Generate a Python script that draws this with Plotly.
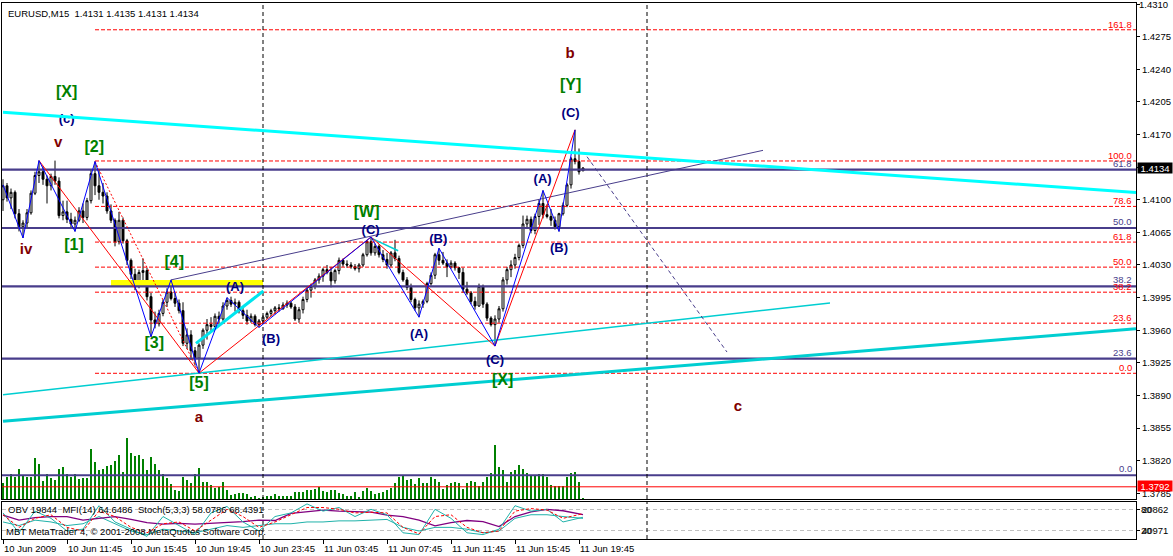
import plotly.graph_objects as go

# ---------------- data ----------------
bars = list(range(146))
opens = [1.4100,1.4115,1.4102,1.4108,1.4085,1.4071,1.4075,1.4086,1.4107,1.4126,
         1.4130,1.4122,1.4115,1.4125,1.4120,1.4083,1.4087,1.4079,1.4074,1.4078,
         1.4088,1.4081,1.4099,1.4128,1.4115,1.4108,1.4104,1.4088,1.4078,1.4055,
         1.4078,1.4056,1.4035,1.4020,1.4008,1.4022,1.4024,1.3996,1.3971,1.3967,
         1.3978,1.3990,1.4001,1.3994,1.3989,1.3981,1.3946,1.3955,1.3938,1.3930,
         1.3944,1.3960,1.3966,1.3964,1.3975,1.3972,1.3986,1.3992,1.3988,1.3990,
         1.3981,1.3976,1.3970,1.3975,1.3966,1.3970,1.3974,1.3978,1.3981,1.3984,
         1.3983,1.3987,1.3989,1.3985,1.3972,1.3982,1.3993,1.4003,1.4007,1.4014,
         1.4018,1.4025,1.4022,1.4013,1.4024,1.4035,1.4031,1.4030,1.4028,1.4026,
         1.4030,1.4041,1.4055,1.4043,1.4050,1.4041,1.4036,1.4030,1.4043,1.4037,
         1.4022,1.4014,1.4006,1.3993,1.3984,1.3988,1.3991,1.4010,1.4019,1.4041,
         1.4035,1.4032,1.4028,1.4032,1.4027,1.4022,1.4004,1.4000,1.3991,1.3986,
         1.4007,1.3988,1.3973,1.3966,1.3972,1.3983,1.4014,1.4025,1.4030,1.4038,
         1.4051,1.4074,1.4079,1.4067,1.4082,1.4096,1.4084,1.4082,1.4078,1.4071,
         1.4085,1.4094,1.4116,1.4144,1.4141,1.4131]
highs = [1.4122,1.4118,1.4112,1.4110,1.4090,1.4078,1.4090,1.4110,1.4130,1.4142,
         1.4136,1.4126,1.4128,1.4142,1.4124,1.4099,1.4099,1.4086,1.4082,1.4092,
         1.4096,1.4102,1.4133,1.4141,1.4132,1.4118,1.4108,1.4095,1.4080,1.4087,
         1.4081,1.4058,1.4037,1.4026,1.4025,1.4037,1.4027,1.4000,1.3980,1.3982,
         1.3993,1.4005,1.4014,1.4000,1.3993,1.3990,1.3962,1.3960,1.3942,1.3946,
         1.3962,1.3972,1.3974,1.3978,1.3980,1.3990,1.3995,1.3996,1.3994,1.3992,
         1.3986,1.3982,1.3978,1.3977,1.3972,1.3976,1.3980,1.3983,1.3986,1.3988,
         1.3990,1.3992,1.3991,1.3988,1.3985,1.3996,1.4006,1.4010,1.4016,1.4021,
         1.4027,1.4030,1.4028,1.4026,1.4038,1.4037,1.4035,1.4033,1.4031,1.4032,
         1.4043,1.4057,1.4060,1.4053,1.4052,1.4046,1.4043,1.4045,1.4057,1.4040,
         1.4025,1.4017,1.4010,1.3995,1.3992,1.3993,1.4012,1.4022,1.4043,1.4048,
         1.4044,1.4036,1.4035,1.4034,1.4028,1.4027,1.4012,1.4002,1.3996,1.4010,
         1.4009,1.3990,1.3975,1.3976,1.3986,1.4017,1.4028,1.4035,1.4042,1.4053,
         1.4083,1.4083,1.4082,1.4085,1.4100,1.4110,1.4095,1.4090,1.4082,1.4086,
         1.4097,1.4118,1.4146,1.4175,1.4155,1.4135]
lows = [1.4088,1.4098,1.4090,1.4080,1.4066,1.4059,1.4070,1.4084,1.4105,1.4118,
        1.4116,1.4096,1.4110,1.4116,1.4080,1.4078,1.4075,1.4070,1.4066,1.4076,
        1.4075,1.4078,1.4096,1.4105,1.4100,1.4096,1.4085,1.4075,1.4050,1.4052,
        1.4053,1.4030,1.4015,1.4003,1.4005,1.4012,1.3992,1.3953,1.3962,1.3964,
        1.3975,1.3985,1.3992,1.3985,1.3978,1.3943,1.3940,1.3928,1.3922,1.3914,
        1.3940,1.3950,1.3958,1.3962,1.3966,1.3970,1.3982,1.3985,1.3980,1.3978,
        1.3972,1.3966,1.3968,1.3964,1.3963,1.3967,1.3972,1.3975,1.3977,1.3980,
        1.3982,1.3984,1.3983,1.3970,1.3968,1.3978,1.3990,1.3995,1.4004,1.4010,
        1.4012,1.4020,1.4006,1.4010,1.4020,1.4028,1.4027,1.4026,1.4024,1.4022,
        1.4028,1.4039,1.4040,1.4040,1.4038,1.4033,1.4026,1.4028,1.4034,1.4020,
        1.4012,1.4003,1.3990,1.3981,1.3974,1.3984,1.3989,1.4008,1.4015,1.4030,
        1.4030,1.4017,1.4026,1.4024,1.4015,1.4000,1.3998,1.3988,1.3982,1.3985,
        1.3984,1.3970,1.3964,1.3943,1.3968,1.3980,1.4009,1.4017,1.4026,1.4035,
        1.4048,1.4070,1.4064,1.4063,1.4073,1.4080,1.4080,1.4072,1.4068,1.4066,
        1.4083,1.4092,1.4112,1.4138,1.4127,1.4131]
closes = [1.4115,1.4102,1.4108,1.4085,1.4071,1.4075,1.4086,1.4107,1.4126,1.4130,
          1.4122,1.4115,1.4125,1.4120,1.4083,1.4087,1.4079,1.4074,1.4078,1.4088,
          1.4081,1.4099,1.4128,1.4115,1.4108,1.4104,1.4088,1.4078,1.4055,1.4078,
          1.4056,1.4035,1.4020,1.4008,1.4022,1.4024,1.3996,1.3971,1.3967,1.3978,
          1.3990,1.4001,1.3994,1.3989,1.3981,1.3946,1.3955,1.3938,1.3930,1.3944,
          1.3960,1.3966,1.3964,1.3975,1.3972,1.3986,1.3992,1.3988,1.3990,1.3981,
          1.3976,1.3970,1.3975,1.3966,1.3970,1.3974,1.3978,1.3981,1.3984,1.3983,
          1.3987,1.3989,1.3985,1.3972,1.3982,1.3993,1.4003,1.4007,1.4014,1.4018,
          1.4025,1.4022,1.4013,1.4024,1.4035,1.4031,1.4030,1.4028,1.4026,1.4030,
          1.4041,1.4055,1.4043,1.4050,1.4041,1.4036,1.4030,1.4043,1.4037,1.4022,
          1.4014,1.4006,1.3993,1.3984,1.3988,1.3991,1.4010,1.4019,1.4041,1.4035,
          1.4032,1.4028,1.4032,1.4027,1.4022,1.4004,1.4000,1.3991,1.3986,1.4007,
          1.3988,1.3973,1.3966,1.3972,1.3983,1.4014,1.4025,1.4030,1.4038,1.4051,
          1.4074,1.4079,1.4067,1.4082,1.4096,1.4084,1.4082,1.4078,1.4071,1.4085,
          1.4094,1.4116,1.4144,1.4141,1.4130,1.4134]
volumes = [49,67,75,67,90,70,67,67,123,105,54,75,63,57,90,96,75,67,75,60,
           63,63,150,111,87,90,99,102,114,132,81,183,138,129,132,120,87,126,105,87,
           75,63,45,27,24,67,57,48,75,93,51,51,42,34,35,51,27,12,15,18,
           18,15,6,9,3,7,9,9,15,9,9,9,9,21,21,21,27,27,30,35,
           24,21,27,27,18,15,9,9,21,6,24,33,24,15,18,21,27,33,48,66,
           69,57,60,45,63,48,48,66,60,51,30,42,48,51,48,30,48,54,51,39,
           51,66,78,162,96,87,51,81,87,102,90,78,69,69,75,75,66,42,39,39,
           39,66,78,81,51,3]

time_tick_bars = [0, 16, 32, 48, 64, 80, 96, 112, 128, 144]
time_tick_labels = ["10 Jun 2009", "10 Jun 11:45", "10 Jun 15:45", "10 Jun 19:45",
                    "10 Jun 23:45", "11 Jun 03:45", "11 Jun 07:45", "11 Jun 11:45",
                    "11 Jun 15:45", "11 Jun 19:45"]
day_separator_bars = [65, 161]

top_price_tick = 1.4310
price_ticks = [1.4310, 1.4275, 1.4240, 1.4205, 1.4170, 1.4135, 1.4100, 1.4065, 1.4030,
               1.3995, 1.3960, 1.3925, 1.3890, 1.3855, 1.3820, 1.3785]
price_tick_labels = ["" if p == top_price_tick else "%.4f" % p for p in price_ticks]

bid_price = 1.4134
stop_price = 1.3792

red_fib_levels = [161.8, 100.0, 78.6, 61.8, 50.0, 38.2, 23.6, 0.0]
red_fib_zero = 1.39138
red_fib_hundred = 1.41416
red_fib_start_bar = 23

blue_fib_levels = [61.8, 50.0, 38.2, 23.6, 0.0]
blue_fib_zero = 1.38044
blue_fib_hundred = 1.43350

yellow_zone_bars = [27, 65]
yellow_zone_prices = [1.40067, 1.40140]

resistance_bars = [0, 283.25]
resistance_prices = [1.41938, 1.41077]
support_bars = [0, 283.25]
support_prices = [1.38624, 1.39616]
channel_bars = [0, 206.75]
channel_prices = [1.38908, 1.39892]
rise_bars = [48.25, 65.1]
rise_prices = [1.39459, 1.40021]
small_bars = [92.2, 98.8]
small_prices = [1.40586, 1.40453]
slate_bars = [42, 190]
slate_prices = [1.4014, 1.4153]
projection_bars = [146, 181]
projection_prices = [1.41462, 1.39366]

zigzag_bars = [0, 5, 9, 18, 23, 37, 42, 49, 56, 64, 92, 104, 109, 123, 135, 139, 143]
zigzag_prices = [1.4116, 1.4059, 1.4142, 1.4066, 1.4141, 1.3953, 1.4014, 1.3914, 1.3995,
                 1.3963, 1.4060, 1.3974, 1.4048, 1.3943, 1.4110, 1.4066, 1.4175]

red_wave_a_bars = [9, 49]
red_wave_a_prices = [1.4142, 1.3914]
red_dotted_bars = [23, 49]
red_dotted_prices = [1.4141, 1.3914]
red_path_bars = [49, 92, 123, 143]
red_path_prices = [1.3914, 1.4060, 1.3943, 1.4175]

wave_label_text = ["[X]", "(c)", "v", "[2]", "iv", "[1]", "[4]", "[3]", "(A)", "(B)", "[5]", "a",
                   "[W]", "(C)", "(B)", "(A)", "(C)", "[X]", "(A)", "(B)", "(C)", "[Y]", "b", "c"]
wave_label_bar = [15.9, 15.9, 13.8, 22.8, 5.75, 17.75, 42.8, 37.8, 58, 67, 49, 49,
                  90.9, 91.9, 108.8, 104, 123, 124.9, 134.9, 139, 141.9, 141.9, 141.75, 183.75]
wave_label_price = [1.42142, 1.41863, 1.41605, 1.41558, 1.40460, 1.40507, 1.40324, 1.39449,
                    1.40056, 1.39502, 1.39023, 1.38658, 1.40861, 1.40664, 1.40575, 1.39549,
                    1.39277, 1.39055, 1.41212, 1.40479, 1.41927, 1.42220, 1.42563, 1.38777]
wave_label_degree = ["g", "n", "r", "g", "r", "g", "g", "g", "n", "n", "g", "r",
                     "g", "n", "n", "n", "n", "g", "n", "n", "n", "g", "r", "r"]

ind_bars = [0, 4, 8, 12, 16, 20, 24, 28, 32, 36, 40, 44, 48, 52, 56, 60, 64, 68, 72, 76,
            80, 84, 88, 92, 96, 100, 104, 108, 112, 116, 120, 124, 128, 132, 136, 140, 145]
stoch_main = [70, 15, 75, 55, 20, 25, 90, 45, 25, 5, 60, 35, 10, 70, 88, 45, 20, 60, 70, 95,
              75, 85, 60, 80, 65, 15, 10, 80, 55, 15, 10, 25, 90, 75, 80, 45, 58]
stoch_signal = [65, 30, 55, 65, 30, 20, 75, 60, 30, 15, 40, 45, 20, 50, 80, 60, 30, 45, 65, 85,
                85, 80, 70, 72, 70, 30, 12, 60, 65, 30, 15, 20, 75, 82, 78, 55, 68]
obv_line = [45, 35, 50, 45, 35, 40, 60, 40, 20, 10, 25, 20, 15, 25, 35, 30, 35, 40, 40, 45,
            45, 48, 48, 50, 52, 30, 20, 30, 30, 25, 15, 20, 55, 65, 65, 60, 55]
mfi_line = [64, 50, 57, 60, 60, 50, 55, 60, 52, 43, 39, 41, 39, 41, 44, 46, 50, 49, 69, 73,
            78, 75, 73, 72, 64, 60, 50, 34, 43, 49, 46, 32, 60, 73, 80, 76, 65]
stoch_levels = [80, 20]
ind_right_labels = ["20862", "40971"]

header_text = "EURUSD,M15\u00a0\u00a01.4131 1.4135 1.4131 1.4134"
ind_text = "OBV 19844\u00a0\u00a0MFI(14) 64.6486\u00a0\u00a0Stoch(5,3,3) 58.0786 68.4391"
copyright_text = "MBT MetaTrader 4, \u00a9 2001-2008 MetaQuotes Software Corp."

# ---------------- styles ----------------
FONT = "Liberation Sans"
SLATE = "#483D8B"
X_RANGE = [-0.25, 283.25]
Y_RANGE = [1.37789, 1.43111]
degree_color = {"g": "#008000", "n": "#000080", "r": "#800000"}
degree_size = {"g": 16, "n": 13, "r": 15}

fig = go.Figure()

# volume on base axis (drawn underneath)
fig.add_trace(go.Bar(x=bars, y=volumes, xaxis="x", yaxis="y", width=0.28,
                     marker=dict(color="#008000", line=dict(width=0)), hoverinfo="skip"))

# yellow zone
fig.add_trace(go.Scatter(x=[yellow_zone_bars[0], yellow_zone_bars[1], yellow_zone_bars[1], yellow_zone_bars[0]],
                         y=[yellow_zone_prices[0], yellow_zone_prices[0], yellow_zone_prices[1], yellow_zone_prices[1]],
                         fill="toself", fillcolor="#FFFF00", line=dict(width=0), mode="lines",
                         xaxis="x", yaxis="y2", hoverinfo="skip"))

annotations = []

# red fib (dashed)
for lvl in red_fib_levels:
    p = red_fib_zero + lvl / 100.0 * (red_fib_hundred - red_fib_zero)
    fig.add_trace(go.Scatter(x=[red_fib_start_bar, X_RANGE[1]], y=[p, p], mode="lines",
                             line=dict(color="#FF0000", width=1, dash="4px,2px"),
                             xaxis="x", yaxis="y2", hoverinfo="skip"))
    annotations.append(dict(x=282.6, y=p, xref="x", yref="y2", xanchor="right", yanchor="bottom",
                            text="%.1f" % lvl, showarrow=False, borderpad=0, yshift=-1,
                            font=dict(family=FONT, size=9.5, color="#FF0000")))

# blue fib (solid)
for lvl in blue_fib_levels:
    p = blue_fib_zero + lvl / 100.0 * (blue_fib_hundred - blue_fib_zero)
    fig.add_trace(go.Scatter(x=X_RANGE, y=[p, p], mode="lines",
                             line=dict(color=SLATE, width=2.2),
                             xaxis="x", yaxis="y2", hoverinfo="skip"))
    annotations.append(dict(x=282.6, y=p, xref="x", yref="y2", xanchor="right", yanchor="bottom",
                            text="%.1f" % lvl, showarrow=False, borderpad=0, yshift=0,
                            font=dict(family=FONT, size=9.5, color=SLATE)))

# stop level line
fig.add_trace(go.Scatter(x=X_RANGE, y=[stop_price, stop_price], mode="lines",
                         line=dict(color="#FF0000", width=1), xaxis="x", yaxis="y2", hoverinfo="skip"))

# day separators
for b in day_separator_bars:
    fig.add_trace(go.Scatter(x=[b, b], y=Y_RANGE, mode="lines",
                             line=dict(color="black", width=1, dash="4px,3px"),
                             xaxis="x", yaxis="y2", hoverinfo="skip"))
    fig.add_trace(go.Scatter(x=[b, b], y=[-2.2, 101.1], mode="lines",
                             line=dict(color="black", width=1, dash="4px,3px"),
                             xaxis="x2", yaxis="y3", hoverinfo="skip"))

# candles
fig.add_trace(go.Candlestick(x=bars, open=opens, high=highs, low=lows, close=closes,
                             xaxis="x", yaxis="y2", whiskerwidth=0,
                             increasing=dict(line=dict(color="black", width=1), fillcolor="white"),
                             decreasing=dict(line=dict(color="black", width=1), fillcolor="black"),
                             hoverinfo="skip"))

def line(xs, ys, color, width, dash="solid", axes=("x", "y2")):
    fig.add_trace(go.Scatter(x=xs, y=ys, mode="lines", line=dict(color=color, width=width, dash=dash),
                             xaxis=axes[0], yaxis=axes[1], hoverinfo="skip"))

line(support_bars, support_prices, "#00CED1", 3)
line(channel_bars, channel_prices, "#00CED1", 1.5)
line(rise_bars, rise_prices, "#00E5EE", 3)
line(small_bars, small_prices, "#00CED1", 1.5)
line(slate_bars, slate_prices, SLATE, 1)
line(projection_bars, projection_prices, SLATE, 1, "4px,3px")
line(red_wave_a_bars, red_wave_a_prices, "#FF0000", 1)
line(red_dotted_bars, red_dotted_prices, "#FF0000", 1, "2px,2px")
line(red_path_bars, red_path_prices, "#FF0000", 1)
line(zigzag_bars, zigzag_prices, "#0000FF", 1)

# wave labels
fig.add_trace(go.Scatter(x=wave_label_bar, y=wave_label_price, mode="text", text=wave_label_text,
                         textposition="middle center",
                         textfont=dict(family=FONT, weight="bold",
                                       color=[degree_color[d] for d in wave_label_degree],
                                       size=[degree_size[d] for d in wave_label_degree]),
                         xaxis="x", yaxis="y2", hoverinfo="skip"))

line(resistance_bars, resistance_prices, "#00FFFF", 3)

# indicator panel
line(ind_bars, obv_line, "#20B2AA", 1, axes=("x2", "y3"))
line(ind_bars, mfi_line, "#800080", 1.3, axes=("x2", "y3"))
line(ind_bars, stoch_main, "#20B2AA", 1, axes=("x2", "y3"))
line(ind_bars, stoch_signal, "#FF0000", 1, "3px,2px", axes=("x2", "y3"))

# ---------------- annotations ----------------
annotations.append(dict(x=0, y=1, xref="paper", yref="paper", xanchor="left", yanchor="top",
                        xshift=4, yshift=-3, text=header_text, showarrow=False,
                        font=dict(family=FONT, size=9.5, color="black")))
annotations.append(dict(x=1, y=top_price_tick, xref="paper", yref="y2", xanchor="left", yanchor="top",
                        xshift=2, yshift=6, text="%.4f" % top_price_tick, showarrow=False,
                        borderpad=0, font=dict(family=FONT, size=9.5, color="black")))
annotations.append(dict(x=0, y=stoch_levels[0], xref="paper", yref="y3", xanchor="left", yanchor="middle",
                        xshift=4, text=ind_text, showarrow=False,
                        font=dict(family=FONT, size=9.5, color="black")))
annotations.append(dict(x=0, y=stoch_levels[1], xref="paper", yref="y3", xanchor="left", yanchor="middle",
                        xshift=2, yshift=-1, text=copyright_text, showarrow=False,
                        font=dict(family=FONT, size=9.5, color="black")))
for lv, lab in zip(stoch_levels, ["80", "20"]):
    annotations.append(dict(x=1, y=lv, xref="paper", yref="y3", xanchor="left", yanchor="middle",
                            xshift=3, text=lab, showarrow=False,
                            font=dict(family=FONT, size=9.5, color="black")))
for b, lab in zip(time_tick_bars, time_tick_labels):
    annotations.append(dict(x=b, y=0, xref="x2", yref="paper", xanchor="left", yanchor="top",
                            yshift=-2, xshift=-1, text=lab, showarrow=False,
                            font=dict(family=FONT, size=9.5, color="black")))
annotations.append(dict(x=1, y=bid_price, xref="paper", yref="y2", xanchor="left", yanchor="middle",
                        xshift=1, text="%.4f" % bid_price, showarrow=False, bgcolor="black",
                        width=34, height=10, borderpad=0,
                        font=dict(family=FONT, size=9.5, color="white")))
annotations.append(dict(x=1, y=stop_price, xref="paper", yref="y2", xanchor="left", yanchor="middle",
                        xshift=1, yshift=1, text="%.4f" % stop_price, showarrow=False, bgcolor="#FF0000",
                        width=34, height=10, borderpad=0,
                        font=dict(family=FONT, size=9.5, color="white")))

MAIN_DOMAIN = [0.0746, 1.0]
IND_DOMAIN = [0.0, 0.0696]

fig.update_layout(
    width=1173, height=556,
    margin=dict(l=2, r=37, t=3, b=17),
    paper_bgcolor="white", plot_bgcolor="white",
    showlegend=False,
    font=dict(family=FONT, size=9.5, color="black"),
    annotations=annotations,
    bargap=0,
    xaxis=dict(domain=[0, 1], range=X_RANGE, anchor="y", showline=True, mirror=True,
               linecolor="black", linewidth=1, showticklabels=False, ticks="",
               showgrid=False, zeroline=False, rangeslider=dict(visible=False)),
    yaxis=dict(domain=MAIN_DOMAIN, range=[0, 1488], showticklabels=False, showline=False,
               showgrid=False, zeroline=False, ticks="", fixedrange=True),
    yaxis2=dict(domain=MAIN_DOMAIN, range=Y_RANGE, overlaying="y", anchor="x", side="right",
                tickvals=price_ticks, ticktext=price_tick_labels, ticks="outside", ticklen=3,
                tickcolor="black", showline=True, mirror=True, linecolor="black", linewidth=1,
                showgrid=False, zeroline=False, tickfont=dict(family=FONT, size=9.5, color="black")),
    xaxis2=dict(domain=[0, 1], range=X_RANGE, anchor="y3", showline=True, mirror=True,
                linecolor="black", linewidth=1, tickvals=time_tick_bars, ticks="outside", ticklen=4,
                tickcolor="black", showticklabels=False, showgrid=False, zeroline=False),
    yaxis3=dict(domain=IND_DOMAIN, range=[-2.2, 101.1], anchor="x2", side="right",
                tickvals=stoch_levels, ticktext=ind_right_labels, ticks="outside", ticklen=3,
                tickcolor="black", showline=True, mirror=True, linecolor="black", linewidth=1,
                showgrid=True, gridcolor="#C0C0C0", griddash="4px,3px", gridwidth=1,
                zeroline=False, tickfont=dict(family=FONT, size=9.5, color="black")),
)

fig.write_html("out.html", config={"displayModeBar": False},
               post_script="document.body.style.margin='0';document.body.style.padding='0';")
